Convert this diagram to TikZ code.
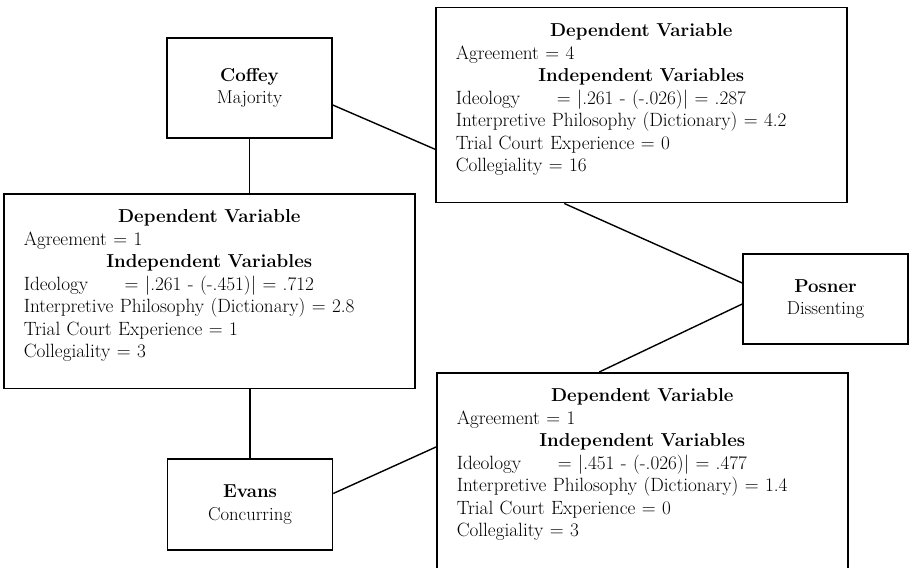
\documentclass[tikz,border=0pt]{standalone}
\usepackage{tikz}

\newcommand{\varhead}[1]{\makebox[\linewidth]{\fontsize{18.7pt}{22.5pt}\selectfont\textbf{#1}}}
\newcommand{\idlabel}{\makebox[101pt][l]{Ideology}}
\newcommand{\bottomgap}[1]{\rule[-#1]{0pt}{#1}}

\begin{document}
\begin{tikzpicture}[x=1pt,y=-1pt,
		judge/.style={draw,line width=1.5pt,align=center,minimum width=165pt,
			font=\fontsize{18.7pt}{22.5pt}\selectfont},
		varbox/.style={draw,line width=1.5pt,align=left,anchor=north west,
			text width=371pt,inner xsep=20pt,inner ysep=16pt,
			font=\fontsize{19.2pt}{22.5pt}\selectfont},
		link/.style={line width=1.4pt}]
	\useasboundingbox (0,0) rectangle (909,567);
	
	\node[judge,minimum height=100pt] (coffey) at (249.5,88) {\textbf{Coffey}\\Majority};
	\node[judge,minimum height=90pt] (posner) at (825.5,299) {\textbf{Posner}\\Dissenting};
	\node[judge,minimum height=91pt] (evans) at (250,504.5) {\textbf{Evans}\\Concurring};
	
	\node[varbox] (dvtop) at (435,7) {\varhead{Dependent Variable}\\
		Agreement = 4\\
		\varhead{Independent Variables}\\
		\idlabel= \textbar.261 - (-.026)\textbar{} = .287\\
		Interpretive Philosophy (Dictionary) = 4.2\\
		Trial Court Experience = 0\\
		Collegiality = 16\bottomgap{15pt}};
	\node[varbox] (dvleft) at (3,193) {\varhead{Dependent Variable}\\
		Agreement = 1\\
		\varhead{Independent Variables}\\
		\idlabel= \textbar.261 - (-.451)\textbar{} = .712\\
		Interpretive Philosophy (Dictionary) = 2.8\\
		Trial Court Experience = 1\\
		Collegiality = 3\bottomgap{15pt}};
	\node[varbox] (dvbot) at (436,372) {\varhead{Dependent Variable}\\
		Agreement = 1\\
		\varhead{Independent Variables}\\
		\idlabel= \textbar.451 - (-.026)\textbar{} = .477\\
		Interpretive Philosophy (Dictionary) = 1.4\\
		Trial Court Experience = 0\\
		Collegiality = 3\bottomgap{22pt}};
	
	% judges to their pair boxes
	\draw[link] ([yshift=-17pt]coffey.east) -- ([yshift=-44pt]dvtop.west);
	\draw[link] (coffey.south) -- (coffey.south |- dvleft.north);
	\draw[link] (evans.north |- dvleft.south) -- (evans.north);
	\draw[link] ([xshift=-77pt]dvtop.south) -- ([yshift=16pt]posner.west);
	\draw[link] ([yshift=-5pt]posner.west) -- ([xshift=-43pt]dvbot.north);
	\draw[link] ([yshift=11pt]evans.east) -- ([yshift=-75pt]dvbot.north west);
\end{tikzpicture}
\end{document}
